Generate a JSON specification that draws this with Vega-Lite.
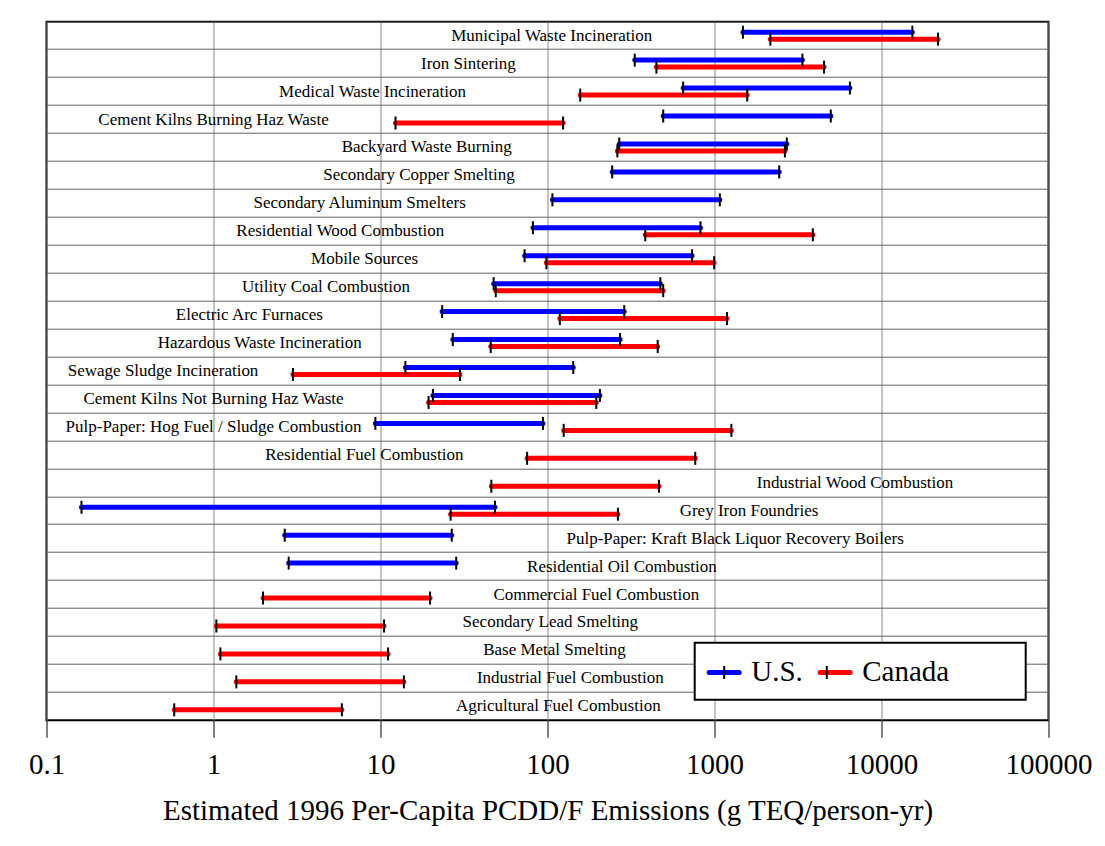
{
  "$schema": "https://vega.github.io/schema/vega-lite/v6.json",
  "width": 1002,
  "height": 698.6,
  "autosize": {"type": "none"},
  "padding": {"left": 46.5, "top": 21.7, "right": 56.5, "bottom": 126},
  "background": "white",
  "datasets": {
    "ranges": [
      {"source": "Municipal Waste Incineration", "country": "U.S.", "lo": 1480, "hi": 15300},
      {"source": "Municipal Waste Incineration", "country": "Canada", "lo": 2160, "hi": 21800},
      {"source": "Iron Sintering", "country": "U.S.", "lo": 333, "hi": 3360},
      {"source": "Iron Sintering", "country": "Canada", "lo": 449, "hi": 4530},
      {"source": "Medical Waste Incineration", "country": "U.S.", "lo": 649, "hi": 6470},
      {"source": "Medical Waste Incineration", "country": "Canada", "lo": 157, "hi": 1570},
      {"source": "Cement Kilns Burning Haz Waste", "country": "U.S.", "lo": 493, "hi": 4970},
      {"source": "Cement Kilns Burning Haz Waste", "country": "Canada", "lo": 12.3, "hi": 124},
      {"source": "Backyard Waste Burning", "country": "U.S.", "lo": 269, "hi": 2710},
      {"source": "Backyard Waste Burning", "country": "Canada", "lo": 262, "hi": 2640},
      {"source": "Secondary Copper Smelting", "country": "U.S.", "lo": 244, "hi": 2440},
      {"source": "Secondary Aluminum Smelters", "country": "U.S.", "lo": 107, "hi": 1076},
      {"source": "Residential Wood Combustion", "country": "U.S.", "lo": 81.8, "hi": 824},
      {"source": "Residential Wood Combustion", "country": "Canada", "lo": 385, "hi": 3880},
      {"source": "Mobile Sources", "country": "U.S.", "lo": 72.9, "hi": 734},
      {"source": "Mobile Sources", "country": "Canada", "lo": 98.5, "hi": 995},
      {"source": "Utility Coal Combustion", "country": "U.S.", "lo": 47.6, "hi": 474},
      {"source": "Utility Coal Combustion", "country": "Canada", "lo": 49, "hi": 493},
      {"source": "Electric Arc Furnaces", "country": "U.S.", "lo": 23.4, "hi": 288},
      {"source": "Electric Arc Furnaces", "country": "Canada", "lo": 118.5, "hi": 1188},
      {"source": "Hazardous Waste Incineration", "country": "U.S.", "lo": 27.1, "hi": 272},
      {"source": "Hazardous Waste Incineration", "country": "Canada", "lo": 45.7, "hi": 457},
      {"source": "Sewage Sludge Incineration", "country": "U.S.", "lo": 14.1, "hi": 142.6},
      {"source": "Sewage Sludge Incineration", "country": "Canada", "lo": 2.99, "hi": 29.9},
      {"source": "Cement Kilns Not Burning Haz Waste", "country": "U.S.", "lo": 20.6, "hi": 206},
      {"source": "Cement Kilns Not Burning Haz Waste", "country": "Canada", "lo": 19.4, "hi": 196},
      {"source": "Pulp-Paper: Hog Fuel / Sludge Combustion", "country": "U.S.", "lo": 9.32, "hi": 93.9},
      {"source": "Pulp-Paper: Hog Fuel / Sludge Combustion", "country": "Canada", "lo": 125, "hi": 1262},
      {"source": "Residential Fuel Combustion", "country": "Canada", "lo": 75.5, "hi": 767},
      {"source": "Industrial Wood Combustion", "country": "Canada", "lo": 46.1, "hi": 465},
      {"source": "Grey Iron Foundries", "country": "U.S.", "lo": 0.162, "hi": 48.5},
      {"source": "Grey Iron Foundries", "country": "Canada", "lo": 26.3, "hi": 264},
      {"source": "Pulp-Paper: Kraft Black Liquor Recovery Boilers", "country": "U.S.", "lo": 2.67, "hi": 26.7},
      {"source": "Residential Oil Combustion", "country": "U.S.", "lo": 2.82, "hi": 28.4},
      {"source": "Commercial Fuel Combustion", "country": "Canada", "lo": 1.98, "hi": 19.8},
      {"source": "Secondary Lead Smelting", "country": "Canada", "lo": 1.04, "hi": 10.5},
      {"source": "Base Metal Smelting", "country": "Canada", "lo": 1.1, "hi": 11.1},
      {"source": "Industrial Fuel Combustion", "country": "Canada", "lo": 1.37, "hi": 13.8},
      {"source": "Agricultural Fuel Combustion", "country": "Canada", "lo": 0.582, "hi": 5.87}
    ],
    "labels": [
      {"source": "Municipal Waste Incineration", "label_x": 106},
      {"source": "Iron Sintering", "label_x": 33.6},
      {"source": "Medical Waste Incineration", "label_x": 8.96},
      {"source": "Cement Kilns Burning Haz Waste", "label_x": 1.0},
      {"source": "Backyard Waste Burning", "label_x": 18.9},
      {"source": "Secondary Copper Smelting", "label_x": 17},
      {"source": "Secondary Aluminum Smelters", "label_x": 7.5},
      {"source": "Residential Wood Combustion", "label_x": 5.74},
      {"source": "Mobile Sources", "label_x": 8.03},
      {"source": "Utility Coal Combustion", "label_x": 4.72},
      {"source": "Electric Arc Furnaces", "label_x": 1.64},
      {"source": "Hazardous Waste Incineration", "label_x": 1.89},
      {"source": "Sewage Sludge Incineration", "label_x": 0.499},
      {"source": "Cement Kilns Not Burning Haz Waste", "label_x": 1.0},
      {"source": "Pulp-Paper: Hog Fuel / Sludge Combustion", "label_x": 1.0},
      {"source": "Residential Fuel Combustion", "label_x": 8.0},
      {"source": "Industrial Wood Combustion", "label_x": 6936},
      {"source": "Grey Iron Foundries", "label_x": 1610},
      {"source": "Pulp-Paper: Kraft Black Liquor Recovery Boilers", "label_x": 1330},
      {"source": "Residential Oil Combustion", "label_x": 279},
      {"source": "Commercial Fuel Combustion", "label_x": 196},
      {"source": "Secondary Lead Smelting", "label_x": 104},
      {"source": "Base Metal Smelting", "label_x": 110},
      {"source": "Industrial Fuel Combustion", "label_x": 137},
      {"source": "Agricultural Fuel Combustion", "label_x": 116}
    ]
  },
  "config": {
    "font": "Liberation Serif",
    "view": {"stroke": "black", "strokeWidth": 2},
    "legend": {
      "labelFont": "Liberation Serif",
      "labelFontSize": 29,
      "labelColor": "black",
      "labelOffset": 9.5,
      "padding": 12,
      "direction": "horizontal",
      "orient": "none",
      "legendX": 648.2,
      "legendY": 621
    }
  },
  "encoding": {
    "y": {
      "field": "source",
      "type": "nominal",
      "scale": {
        "domain": [
          "Municipal Waste Incineration", "Iron Sintering", "Medical Waste Incineration",
          "Cement Kilns Burning Haz Waste", "Backyard Waste Burning", "Secondary Copper Smelting",
          "Secondary Aluminum Smelters", "Residential Wood Combustion", "Mobile Sources",
          "Utility Coal Combustion", "Electric Arc Furnaces", "Hazardous Waste Incineration",
          "Sewage Sludge Incineration", "Cement Kilns Not Burning Haz Waste",
          "Pulp-Paper: Hog Fuel / Sludge Combustion", "Residential Fuel Combustion",
          "Industrial Wood Combustion", "Grey Iron Foundries",
          "Pulp-Paper: Kraft Black Liquor Recovery Boilers", "Residential Oil Combustion",
          "Commercial Fuel Combustion", "Secondary Lead Smelting", "Base Metal Smelting",
          "Industrial Fuel Combustion", "Agricultural Fuel Combustion"
        ],
        "paddingInner": 0,
        "paddingOuter": 0
      },
      "axis": {
        "title": null,
        "labels": false,
        "ticks": false,
        "domain": false,
        "grid": true,
        "bandPosition": 0,
        "gridColor": "#606060",
        "gridWidth": 1,
        "gridOpacity": 1
      }
    }
  },
  "layer": [
    {
      "data": {"name": "ranges"},
      "mark": {"type": "rule", "strokeWidth": 5, "strokeCap": "round"},
      "encoding": {
        "yOffset": {"field": "country", "type": "nominal", "scale": {"domain": ["U.S.", "Canada"], "paddingInner": 0, "paddingOuter": 1}},
        "x": {
          "field": "lo",
          "type": "quantitative",
          "title": "Estimated 1996 Per-Capita PCDD/F Emissions (g TEQ/person-yr)",
          "scale": {"type": "log", "domain": [0.1, 100000], "nice": false},
          "axis": {
            "values": [0.1, 1, 10, 100, 1000, 10000, 100000],
            "format": "~g",
            "domain": false,
            "grid": true,
            "gridColor": "#888888",
            "gridOpacity": 1,
            "gridWidth": 1,
            "ticks": true,
            "tickColor": "black",
            "tickSize": 17,
            "tickWidth": 1,
            "labelFontSize": 29,
            "labelColor": "black",
            "labelPadding": 13,
            "labelFlush": false,
            "labelOverlap": false,
            "titleFontSize": 29,
            "titleFontWeight": "normal",
            "titleColor": "black",
            "titlePadding": 17
          }
        },
        "x2": {"field": "hi"},
        "color": {
          "field": "country",
          "type": "nominal",
          "scale": {"domain": ["U.S.", "Canada"], "range": ["#0000ff", "#ff0000"]},
          "legend": {
            "title": " ",
            "titleOrient": "right",
            "titlePadding": 65,
            "titleFontSize": 29,
            "columnPadding": 6,
            "symbolType": "stroke",
            "symbolSize": 900,
            "symbolStrokeWidth": 5,
            "symbolOpacity": 1,
            "strokeColor": "black",
            "fillColor": "white",
            "encode": {
              "symbols": {"update": {"strokeCap": {"value": "round"}}},
              "legend": {"update": {"strokeWidth": {"value": 2}}}
            }
          }
        }
      }
    },
    {
      "data": {"name": "ranges"},
      "transform": [{"fold": ["lo", "hi"], "as": ["end", "val"]}],
      "mark": {"type": "point", "size": 1089, "strokeWidth": 2, "color": "black", "filled": false, "opacity": 1},
      "encoding": {
        "yOffset": {"field": "country", "type": "nominal"},
        "x": {"field": "val", "type": "quantitative", "title": "Estimated 1996 Per-Capita PCDD/F Emissions (g TEQ/person-yr)"},
        "shape": {
          "field": "country",
          "type": "nominal",
          "sort": ["U.S.", "Canada"],
          "scale": {"range": ["M0,-0.394V0.394", "M0,-0.394V0.394"]},
          "legend": {
            "title": null,
            "labelExpr": "''",
            "columnPadding": 57.6,
            "symbolSize": 1089,
            "symbolStrokeWidth": 2,
            "symbolStrokeColor": "black",
            "symbolFillColor": "transparent",
            "symbolOpacity": 1
          }
        }
      }
    },
    {
      "data": {"name": "labels"},
      "mark": {"type": "text", "fontSize": 17, "align": "center", "baseline": "middle", "color": "black"},
      "encoding": {
        "x": {"field": "label_x", "type": "quantitative", "title": "Estimated 1996 Per-Capita PCDD/F Emissions (g TEQ/person-yr)"},
        "text": {"field": "source"}
      }
    }
  ]
}
